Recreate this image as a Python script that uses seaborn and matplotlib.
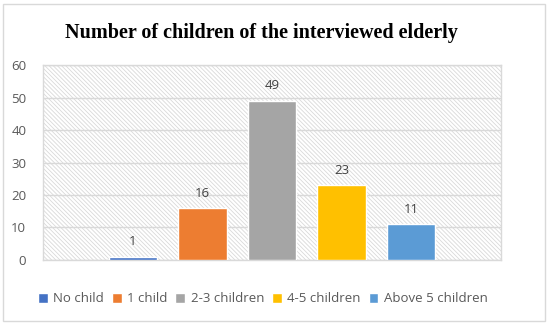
import numpy as np
import pandas as pd
import seaborn as sns
import matplotlib.pyplot as plt
from matplotlib.patches import Rectangle

# -----------------------------
# Data
categories = ["No child", "1 child", "2-3 children", "4-5 children", "Above 5 children"]
counts = [1, 16, 49, 23, 11]
colors = ["#4472C4", "#ED7D31", "#A5A5A5", "#FFC000", "#5B9BD5"]
yticks = [0, 10, 20, 30, 40, 50, 60]

df = pd.DataFrame({"group": [""] * len(categories), "category": categories, "count": counts})

# -----------------------------
# Style
sns.set_style("white")
plt.rcParams["font.family"] = ["Open Sans", "DejaVu Sans"]
plt.rcParams["hatch.linewidth"] = 0.6
plt.rcParams["hatch.color"] = "#D9D9D9"

fig = plt.figure(figsize=(5.5, 3.26), dpi=100)
ax = fig.add_axes([0.078, 0.2025, 0.833, 0.598])

# hatched plot area background
ax.add_patch(Rectangle((0, 0), 1, 1, transform=ax.transAxes, facecolor="white",
                       edgecolor="#D9D9D9", hatch="\\" * 8, linewidth=0, zorder=0))

sns.barplot(data=df, x="group", y="count", hue="category", hue_order=categories,
            palette=colors, width=0.8, gap=0.3, saturation=1, ax=ax, zorder=3)

# data labels
for container in ax.containers:
    ax.bar_label(container, padding=6, fontsize=9.5, color="#404040")

ax.set_ylim(0, 60)
ax.set_xlim(-0.527, 0.527)
ax.set_yticks(yticks)
ax.set_xticks([])
ax.set_xlabel("")
ax.set_ylabel("")
ax.tick_params(axis="y", labelsize=9.5, labelcolor="#595959", length=0, pad=12)
ax.grid(axis="y", color="#D9D9D9", linewidth=1)
ax.set_axisbelow(True)
for s in ax.spines.values():
    s.set_color("#D9D9D9")
    s.set_linewidth(1)
    s.set_visible(True)

# legend
ax.legend(loc="center", bbox_to_anchor=(0.48, -0.2), bbox_transform=ax.transAxes,
          ncol=5, frameon=False, fontsize=9.5, handlelength=0.75, handleheight=0.75,
          handletextpad=0.4, columnspacing=0.6, labelcolor="#595959")

fig.text(0.475, 0.9, "Number of children of the interviewed elderly", ha="center", va="center",
         fontsize=14.5, fontweight="bold", family=["Liberation Serif", "DejaVu Serif"], color="black")

# outer border
fig.add_artist(Rectangle((0.006, 0.016), 0.984, 0.972, transform=fig.transFigure,
                         fill=False, edgecolor="#D9D9D9", linewidth=1))

plt.savefig("out.png", dpi=100)
